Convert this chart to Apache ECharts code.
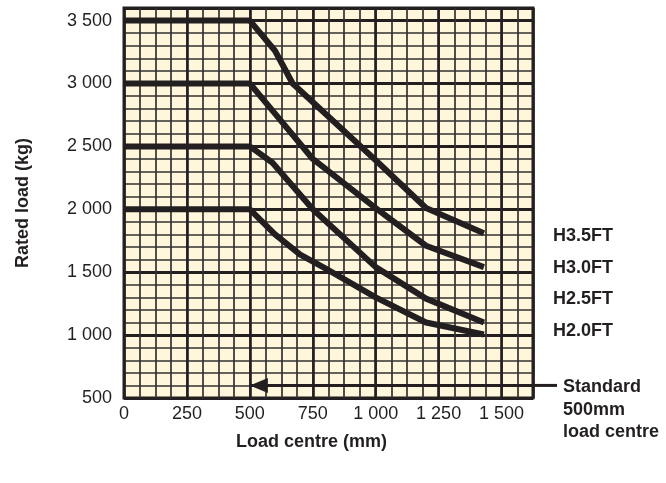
<!DOCTYPE html>
<html>
<head>
<meta charset="utf-8">
<script src="https://cdn.jsdelivr.net/npm/echarts@6/dist/echarts.min.js"></script>
<style>
html,body{margin:0;padding:0;background:#fff;}
#chart{width:666px;height:483px;}
</style>
</head>
<body>
<div id="chart"></div>
<script>
// Load centre (mm) and rated load (kg) for each mast height
const h35x = [0, 500, 600, 670, 1000, 1200, 1430];
const h35y = [3500, 3500, 3260, 3000, 2390, 2010, 1810];
const h30x = [0, 500, 600, 750, 1000, 1200, 1430];
const h30y = [3000, 3000, 2760, 2400, 2010, 1710, 1540];
const h25x = [0, 500, 590, 750, 1000, 1200, 1430];
const h25y = [2500, 2500, 2370, 2000, 1540, 1290, 1100];
const h20x = [0, 500, 600, 700, 800, 1000, 1200, 1430];
const h20y = [2000, 2000, 1800, 1640, 1530, 1300, 1100, 1005];
const seriesNames = ['H3.5FT', 'H3.0FT', 'H2.5FT', 'H2.0FT'];
const standardLoadCentre = 500;
const standardArrowLoad = 600;
const xTicks = [0, 250, 500, 750, 1000, 1250, 1500];
const yTicks = [500, 1000, 1500, 2000, 2500, 3000, 3500];
const X_MAX = 1625;

const INK = '#231f20';
const PAPER = '#fff6dc';
const fmt = v => String(v).replace(/\B(?=(\d{3})+(?!\d))/g, ' ');
const tickFont = '"Liberation Sans Narrow", "Arial Narrow", "Liberation Sans", sans-serif';
const boldFont = '"Liberation Sans", Arial, Helvetica, sans-serif';

const zip = (xs, ys) => xs.map((x, i) => [x, ys[i]]);
const lineSeries = (name, xs, ys, extra) => Object.assign({
  name, type: 'line', xAxisIndex: 1, yAxisIndex: 1,
  data: zip(xs, ys), showSymbol: false, symbol: 'none',
  lineStyle: { color: INK, width: 6, join: 'round', cap: 'butt' },
  silent: true, z: 5
}, extra || {});

const chart = echarts.init(document.getElementById('chart'), null, { renderer: 'canvas' });
const minorSplit = { show: true, lineStyle: { color: '#333131', width: 1.7 } };

chart.setOption({
  animation: false,
  backgroundColor: '#ffffff',
  grid: {
    left: 124, top: 8, width: 409, height: 390,
    containLabel: false, outerBoundsMode: 'none',
    show: true, backgroundColor: PAPER, borderColor: INK, borderWidth: 3
  },
  xAxis: [
    { type: 'value', position: 'bottom', min: 0, max: X_MAX, interval: 62.5,
      axisLine: { show: false }, axisTick: { show: false }, axisLabel: { show: false },
      splitLine: minorSplit },
    { type: 'value', position: 'bottom', min: 0, max: X_MAX, interval: 250,
      axisLine: { show: false }, axisTick: { show: false },
      axisLabel: { show: true, showMaxLabel: false, margin: 7, color: INK,
        fontFamily: tickFont, fontSize: 18,
        formatter: v => xTicks.includes(v) ? fmt(v) : '' },
      splitLine: { show: true, lineStyle: { color: INK, width: 2.6 } },
      name: 'Load centre (mm)', nameLocation: 'middle', nameGap: 35,
      nameTextStyle: { color: INK, fontFamily: boldFont, fontWeight: 'bold', fontSize: 18,
        padding: [0, 34, 0, 0] } }
  ],
  yAxis: [
    { type: 'value', position: 'left', min: 500, max: 3600, interval: 100,
      axisLine: { show: false }, axisTick: { show: false }, axisLabel: { show: false },
      splitLine: minorSplit },
    { type: 'value', position: 'left', min: 500, max: 3600, interval: 500,
      axisLine: { show: false }, axisTick: { show: false },
      axisLabel: { show: true, showMaxLabel: false, margin: 12, color: INK,
        fontFamily: tickFont, fontSize: 18,
        formatter: v => yTicks.includes(v) ? fmt(v) : '' },
      splitLine: { show: true, lineStyle: { color: INK, width: 3 } },
      name: 'Rated load (kg)', nameLocation: 'middle', nameGap: 92, nameRotate: 90,
      nameTextStyle: { color: INK, fontFamily: boldFont, fontWeight: 'bold', fontSize: 18 } }
  ],
  series: [
    lineSeries(seriesNames[0], h35x, h35y),
    lineSeries(seriesNames[1], h30x, h30y),
    lineSeries(seriesNames[2], h25x, h25y),
    lineSeries(seriesNames[3], h20x, h20y, {
      markLine: {
        silent: true, animation: false,
        symbol: ['none', 'triangle'], symbolSize: [15, 18],
        symbolOffset: [[0, 0], [0, 9]],
        label: { show: false },
        itemStyle: { color: INK },
        lineStyle: { color: INK, width: 3, type: 'solid' },
        emphasis: { disabled: true },
        data: [[{ coord: [X_MAX, standardArrowLoad] }, { coord: [standardLoadCentre, standardArrowLoad] }]]
      }
    })
  ],
  graphic: [
    ...seriesNames.map((n, i) => ({
      type: 'text', left: 553, top: 227 + i * 31.7,
      style: { text: n, font: 'bold 18px ' + boldFont, fill: INK }
    })),
    { type: 'text', left: 563, top: 376,
      style: { text: 'Standard\n500mm\nload centre', font: 'bold 18px ' + boldFont,
        fill: INK, lineHeight: 22.5 } }
  ]
});

// extend the leader line of the arrow out of the plot to the annotation text
const p = chart.convertToPixel({ xAxisIndex: 1, yAxisIndex: 1 }, [X_MAX, standardArrowLoad]);
chart.setOption({
  graphic: [{
    type: 'line', id: 'leader', z: 10,
    shape: { x1: p[0], y1: p[1], x2: p[0] + 24, y2: p[1] },
    style: { stroke: INK, lineWidth: 3 }
  }]
});
</script>
</body>
</html>
